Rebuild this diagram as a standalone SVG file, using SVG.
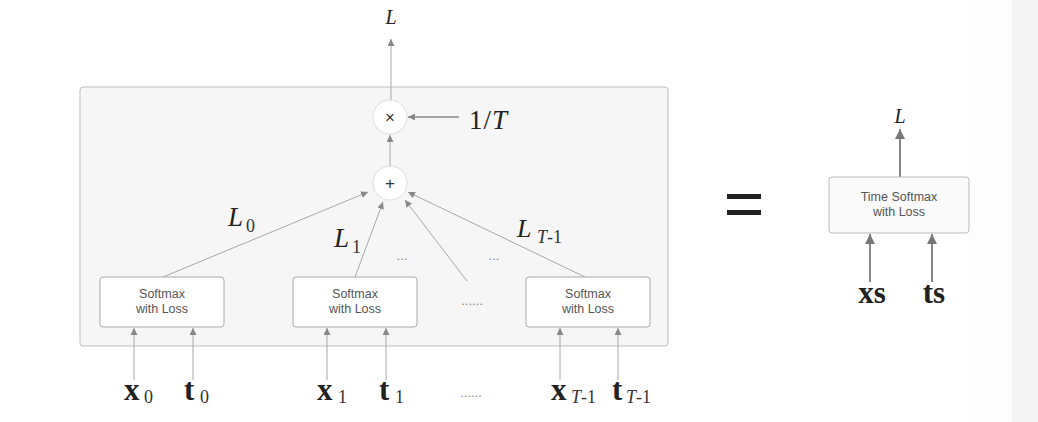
<svg xmlns="http://www.w3.org/2000/svg" width="1038" height="422" viewBox="0 0 1038 422">
<defs>
<style>
.bg{fill:#ffffff}
.outer{fill:#f6f6f6;stroke:#bdbdbd;stroke-width:1}
.box{fill:#ffffff;stroke:#aaaaaa;stroke-width:1}
.tbox{fill:#fafafa;stroke:#bbbbbb;stroke-width:1}
.op{fill:#ffffff;stroke:#dddddd;stroke-width:1}
.ln{stroke:#a8a8a8;stroke-width:1;fill:none}
.lnd{stroke:#8a8a8a;stroke-width:1.3;fill:none}
.ln2{stroke:#888888;stroke-width:2;fill:none}
.bt{font-family:"Liberation Sans",Arial,sans-serif;font-size:12.5px;fill:#555555;text-anchor:middle}
.sym{font-family:"Liberation Sans",Arial,sans-serif;font-size:17px;fill:#333333;text-anchor:middle}
.mi{font-family:"Liberation Serif","Times New Roman",serif;font-style:italic;fill:#222222}
.mr{font-family:"Liberation Serif","Times New Roman",serif;fill:#222222}
.vb{font-family:"Liberation Serif","Times New Roman",serif;font-weight:bold;font-size:31px;fill:#222222}
.sub{font-family:"Liberation Serif","Times New Roman",serif;font-size:18px;fill:#333333}
.dots{font-family:"Liberation Sans",Arial,sans-serif;font-size:13px;fill:#888888;text-anchor:middle}
</style>
<marker id="ah" viewBox="0 0 10 10" refX="10" refY="5" markerWidth="7" markerHeight="7" markerUnits="userSpaceOnUse" orient="auto">
<path d="M0,0 L10,5 L0,10 z" fill="#888888"/>
</marker>
<marker id="ah2" viewBox="0 0 10 10" refX="10" refY="5" markerWidth="10" markerHeight="10" markerUnits="userSpaceOnUse" orient="auto">
<path d="M0,0 L10,5 L0,10 z" fill="#777777"/>
</marker>
</defs>
<rect class="bg" x="0" y="0" width="1038" height="422"/>
<rect x="968" y="0" width="44" height="422" fill="#fdfdfd"/>
<rect x="1012" y="0" width="26" height="422" fill="#f4f4f4"/>

<g id="outer-box">
<rect class="outer" x="80" y="87" width="588" height="259" rx="3"/>
</g>

<g id="connectors">
<line class="ln" x1="391" y1="100" x2="391" y2="39" marker-end="url(#ah)"/>
<line class="lnd" x1="459" y1="117" x2="408" y2="117" marker-end="url(#ah)"/>
<line class="ln" x1="390" y1="166" x2="390" y2="135" marker-end="url(#ah)"/>
<line class="ln" x1="163" y1="277" x2="368" y2="192" marker-end="url(#ah)"/>
<line class="ln" x1="355" y1="277" x2="383" y2="202" marker-end="url(#ah)"/>
<line class="ln" x1="467" y1="281" x2="405" y2="200" marker-end="url(#ah)"/>
<line class="ln" x1="585" y1="277" x2="408" y2="192" marker-end="url(#ah)"/>
<line class="ln" x1="134" y1="380" x2="134" y2="328" marker-end="url(#ah)"/>
<line class="ln" x1="193" y1="380" x2="193" y2="328" marker-end="url(#ah)"/>
<line class="ln" x1="327" y1="380" x2="327" y2="328" marker-end="url(#ah)"/>
<line class="ln" x1="386" y1="380" x2="386" y2="328" marker-end="url(#ah)"/>
<line class="ln" x1="560" y1="380" x2="560" y2="328" marker-end="url(#ah)"/>
<line class="ln" x1="618" y1="380" x2="618" y2="328" marker-end="url(#ah)"/>
<line class="ln2" x1="900" y1="177" x2="900" y2="129" marker-end="url(#ah2)"/>
<line class="ln2" x1="870" y1="282" x2="870" y2="234" marker-end="url(#ah2)"/>
<line class="ln2" x1="932" y1="282" x2="932" y2="234" marker-end="url(#ah2)"/>
</g>

<g id="mul-node">
<circle class="op" cx="390" cy="117" r="17"/>
<text class="sym" x="390" y="123">×</text>
</g>
<g id="add-node">
<circle class="op" cx="390" cy="183" r="17"/>
<text class="sym" x="390" y="189">+</text>
</g>

<g id="softmax-0">
<rect class="box" x="100" y="277" width="124" height="50" rx="3"/>
<text class="bt" x="162" y="298">Softmax</text>
<text class="bt" x="162" y="313">with Loss</text>
</g>
<g id="softmax-1">
<rect class="box" x="293" y="277" width="124" height="50" rx="3"/>
<text class="bt" x="355" y="298">Softmax</text>
<text class="bt" x="355" y="313">with Loss</text>
</g>
<g id="softmax-T-1">
<rect class="box" x="526" y="277" width="124" height="50" rx="3"/>
<text class="bt" x="588" y="298">Softmax</text>
<text class="bt" x="588" y="313">with Loss</text>
</g>

<g id="labels">
<text class="mi" x="391" y="24" font-size="20" text-anchor="middle">L</text>
<text class="mr" x="469" y="129" font-size="27" letter-spacing="1">1/<tspan font-style="italic">T</tspan></text>
<text class="mi" x="228" y="226" font-size="27">L</text>
<text class="sub" x="246" y="232">0</text>
<text class="mi" x="334" y="247" font-size="27">L</text>
<text class="sub" x="352" y="253">1</text>
<text class="mi" x="517" y="237" font-size="26">L</text>
<text class="sub" x="537" y="243"><tspan font-style="italic">T</tspan>-1</text>
<text class="dots" x="402" y="260">...</text>
<text class="dots" x="494" y="260">...</text>
<text class="dots" x="472" y="305">......</text>
</g>

<g id="inputs">
<text class="vb" x="124" y="400">x</text>
<text class="sub" x="144" y="403">0</text>
<text class="vb" x="184" y="400">t</text>
<text class="sub" x="200" y="403">0</text>
<text class="vb" x="317" y="400">x</text>
<text class="sub" x="338" y="403">1</text>
<text class="vb" x="379" y="400">t</text>
<text class="sub" x="395" y="403">1</text>
<text class="dots" x="471" y="397" fill="#555555">......</text>
<text class="vb" x="551" y="400">x</text>
<text class="sub" x="571" y="403"><tspan font-style="italic">T</tspan>-1</text>
<text class="vb" x="612" y="400">t</text>
<text class="sub" x="626" y="403"><tspan font-style="italic">T</tspan>-1</text>
</g>

<g id="equals">
<rect x="727" y="194" width="34" height="5" fill="#222222"/>
<rect x="727" y="210" width="34" height="5" fill="#222222"/>
</g>

<g id="time-softmax">
<rect class="tbox" x="829" y="177" width="140" height="56" rx="3"/>
<text class="bt" x="899" y="201">Time Softmax</text>
<text class="bt" x="899" y="216">with Loss</text>
</g>
<g id="time-labels">
<text class="mi" x="900" y="123" font-size="20" text-anchor="middle">L</text>
<text class="vb" x="872" y="303" text-anchor="middle">xs</text>
<text class="vb" x="934" y="303" text-anchor="middle">ts</text>
</g>
</svg>
